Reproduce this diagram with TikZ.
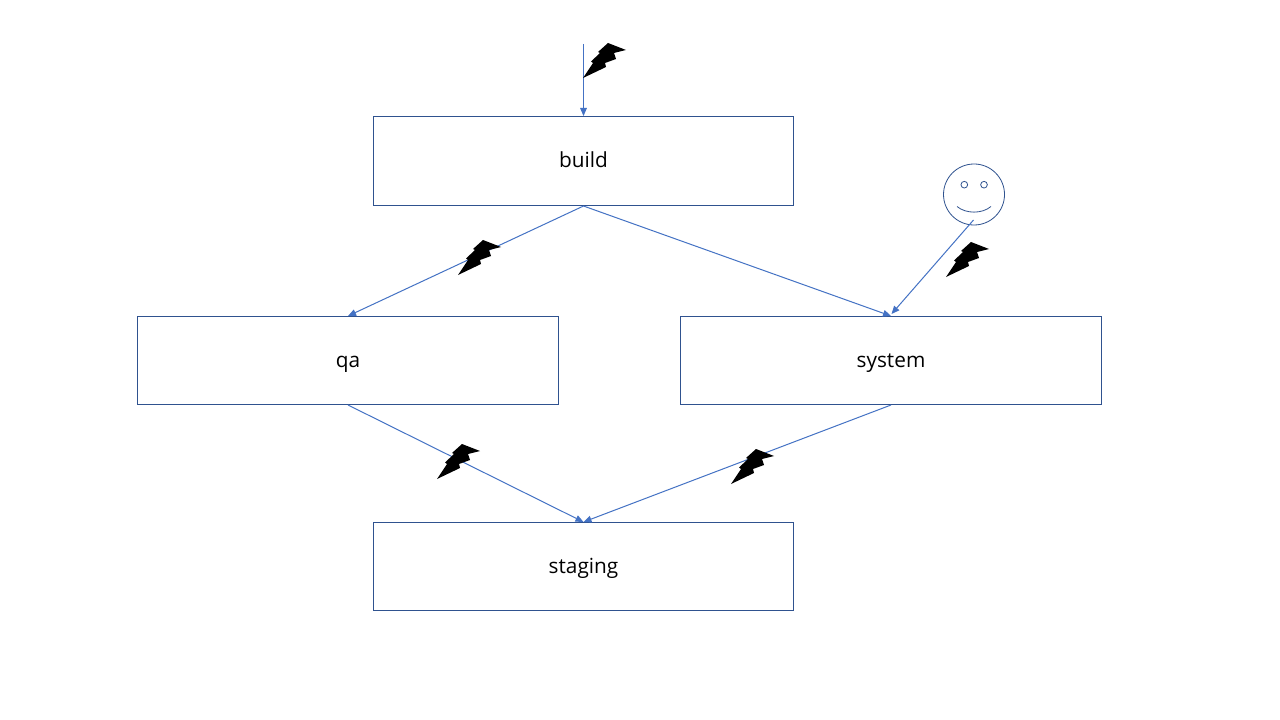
\documentclass[tikz,border=0pt]{standalone}
\usepackage{fontspec}
\setmainfont{Open Sans}
\usetikzlibrary{arrows.meta}
\definecolor{boxblue}{HTML}{2F528F}
\definecolor{linkblue}{HTML}{4472C4}
\tikzset{
  x=0.75pt,y=-0.75pt,
  stagebox/.style={draw=boxblue,line width=0.75pt,fill=white,inner sep=0pt,text height=10.5pt,text depth=0pt,font=\fontsize{15.6pt}{18pt}\selectfont,text=black},
  link/.style={draw=linkblue,line width=0.75pt,-{Triangle[length=6pt,width=5pt]}},
  boltmark/.style={fill=black,draw=none},
  face/.style={draw=boxblue,line width=0.6pt},
  bolt/.pic={\path[boltmark] (0,35) -- (10,20) -- (8,18.5) -- (17,10) -- (15,9) -- (25,0) -- (43,7) -- (31,10) -- (33,16) -- (22,20) -- (23,24) -- cycle;}
}
\begin{document}
\begin{tikzpicture}
\useasboundingbox (0,0) rectangle (1280,720);
\fill[white] (0,0) rectangle (1280,720);
\node[stagebox,minimum width=315pt,minimum height=66.75pt] (build) at (583.5,161) {build};
\node[stagebox,minimum width=315.75pt,minimum height=66pt] (qa) at (348,360.5) {qa};
\node[stagebox,minimum width=315.75pt,minimum height=66pt] (system) at (891,360.5) {system};
\node[stagebox,minimum width=315pt,minimum height=66pt] (staging) at (583.5,566.5) {staging};
\node[face,circle,minimum size=45.75pt,inner sep=0pt] (head) at (974,194.5) {};
\node[face,circle,minimum size=5pt,inner sep=0pt] (eyeL) at (964.3,184.7) {};
\node[face,circle,minimum size=5pt,inner sep=0pt] (eyeR) at (984,184.7) {};
\draw[face] (957,206.5) .. controls (966,214) and (982,214) .. (991,206.5);
\coordinate (entry) at (583.5,44);
\coordinate (chin) at (973.5,220);
\coordinate (sysin) at (891.5,314);
\draw[link] (entry) -- (build.north);
\draw[link] (build.south) -- (qa.north);
\draw[link] (build.south) -- (system.north);
\draw[link] (chin) -- (sysin);
\draw[link] (qa.south) -- (staging.north);
\draw[link] (system.south) -- (staging.north);
\pic at (583,43) {bolt};
\pic at (458,240) {bolt};
\pic at (946,242) {bolt};
\pic at (437,444) {bolt};
\pic at (731,449) {bolt};
\end{tikzpicture}
\end{document}
